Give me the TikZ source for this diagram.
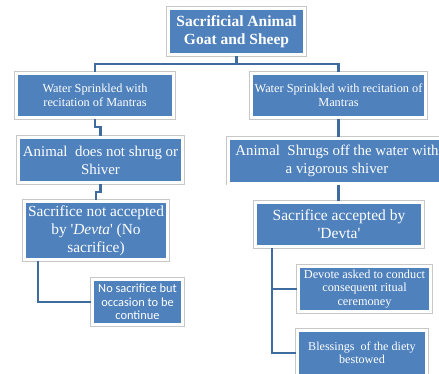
\documentclass[tikz,border=0pt]{standalone}
\usepackage{fontspec}
\setmainfont{Liberation Serif}
\newfontfamily\calibri{Carlito}
\definecolor{boxblue}{HTML}{4F81BD}
\definecolor{lineblue}{HTML}{3F6C9E}
\begin{document}
\begin{tikzpicture}[x=1pt,y=-1pt,
    box/.style={rectangle, fill=boxblue, draw=white, line width=3pt,
        preaction={draw=black!22, line width=4.2pt},
        text=white, align=center, inner sep=0pt},
    link/.style={draw=lineblue, line width=2.2pt}]
    \useasboundingbox (0,0) rectangle (439,373);

    \node[box, minimum width=136pt, minimum height=46pt, font=\bfseries\fontsize{15.5}{18}\selectfont] (animal) at (236.5,31.5) {Sacrificial Animal\\Goat and Sheep};

    \node[box, minimum width=157pt, minimum height=44pt, font=\fontsize{12.3}{14}\selectfont] (waterl) at (95,95.5) {Water Sprinkled with\\recitation of Mantras};
    \node[box, minimum width=174pt, minimum height=44pt, font=\fontsize{12.3}{14}\selectfont] (waterr) at (338.5,95.5) {Water Sprinkled with recitation of\\Mantras};

    \node[box, minimum width=164pt, minimum height=45pt, font=\fontsize{14.9}{18}\selectfont] (noshrug) at (100.5,160) {Animal\ \ does not shrug or\\Shiver};
    \node[box, minimum width=218pt, minimum height=45pt, font=\fontsize{14.9}{18}\selectfont] (shrug) at (337,160.5) {Animal\ \ Shrugs off the water with\\a vigorous shiver};

    \node[box, minimum width=143pt, minimum height=58pt, font=\fontsize{15.4}{18}\selectfont] (rejected) at (96,230.5) {Sacrifice not accepted\\by \textquotesingle\textit{Devta}\textquotesingle{} (No\\sacrifice)};
    \node[box, minimum width=167pt, minimum height=44pt, font=\fontsize{15.5}{18}\selectfont] (accepted) at (339,224.5) {Sacrifice accepted by\\\textquotesingle Devta\textquotesingle};

    \node[box, minimum width=90pt, minimum height=45pt, font=\calibri\fontsize{12.4}{13.3}\selectfont] (occasion) at (137.5,302) {No sacrifice but\\occasion to be\\continue};
    \node[box, minimum width=132pt, minimum height=45pt, font=\fontsize{12.3}{13.3}\selectfont] (ritual) at (364.5,289) {Devote asked to conduct\\consequent ritual\\ceremoney};
    \node[box, minimum width=129pt, minimum height=45pt, font=\fontsize{12.1}{13}\selectfont] (blessing) at (362,353) {Blessings\ \ of the diety\\bestowed};

    \draw[link] (animal.south) -- ++(0,8) -| (waterl.north);
    \draw[link] (animal.south) -- ++(0,8) -| (waterr.north);
    \draw[link] (waterl.south) -- ++(0,8) -| (noshrug.north);
    \draw[link] (waterr.south) -- (waterr.south |- shrug.north);
    \draw[link] (noshrug.south) -- ++(0,8) -| (rejected.north);
    \draw[link] (waterr.south |- shrug.south) -- (waterr.south |- accepted.north);

    \coordinate (rejfoot) at (38,261);
    \draw[link] (rejfoot) |- (occasion.west);
    \coordinate (accfoot) at (272,248);
    \draw[link] (accfoot) |- (ritual.west);
    \draw[link] (accfoot) |- (blessing.west);
\end{tikzpicture}
\end{document}
